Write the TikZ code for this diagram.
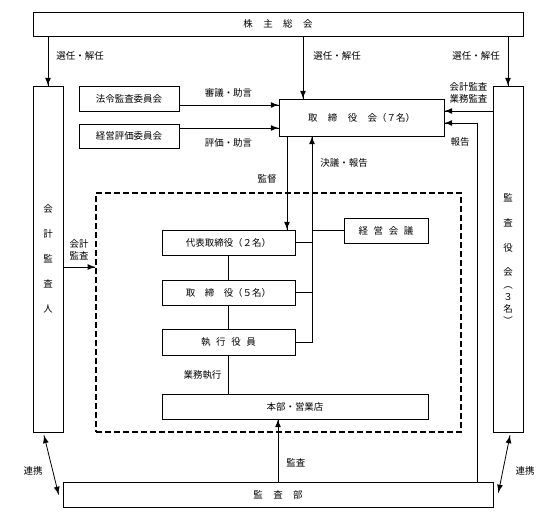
\documentclass[tikz,border=0pt]{standalone}
\usepackage{fontspec}
\setmainfont{Noto Sans CJK JP}
\usetikzlibrary{calc,
                 decorations.markings}
\tikzset{arr/.style = {decoration={markings, mark=at position 1 with {\arrow[scale=1.5]{latex}}}, postaction={decorate}}}
\tikzset{arrboth/.style = {decoration={markings, mark=at position 0 with {\arrowreversed[scale=1.5]{latex}}, mark=at position 1 with {\arrow[scale=1.5]{latex}}}, postaction={decorate}}}
\tikzset{box/.style = {draw, inner sep=0pt, minimum height=25bp}}
\tikzset{lbl/.style = {inner sep=0pt}}
\newcommand{\gp}[1][1.1em]{\hspace{#1}}

\begin{document}
\begin{tikzpicture}[x=1bp, y=-1bp, line width=0.8bp, font=\fontsize{9.5}{11}\selectfont]
\useasboundingbox (0,0) rectangle (541,521);
\node[draw, dash pattern=on 6bp off 3bp, line width=1.3bp, minimum width=365bp, minimum height=239bp] (grp) at (278.5,312.5) {};
\node[box, minimum width=490bp, minimum height=24bp] (agm) at (278,24) {株\gp 主\gp 総\gp 会};
\node[box, minimum width=30bp, minimum height=346bp, align=center, font=\fontsize{9.5}{25}\selectfont] (auditor) at (48,259) {会\\計\\監\\査\\人};
\node[box, minimum width=30bp, minimum height=346bp, align=center, font=\fontsize{9.5}{12}\selectfont] (kansa) at (508,259) {監\\[13bp]査\\[13bp]役\\[13bp]会\\[1bp]︵\\３\\名\\︶};
\node[box, minimum width=100bp] (law) at (129,98.5) {法令監査委員会};
\node[box, minimum width=100bp, minimum height=24bp] (eval) at (129,136) {経営評価委員会};
\node[box, minimum width=165bp, minimum height=37bp] (board) at (361.5,117.5) {取\gp 締\gp 役\gp 会（７名）};
\node[box, minimum width=133bp] (rep) at (228.5,242.5) {代表取締役（２名）};
\node[box, minimum width=133bp] (dir) at (228.5,292.5) {取\gp[1em]締\gp[1em]役（５名）};
\node[box, minimum width=133bp, minimum height=26bp] (exe) at (228.5,342) {執\gp[0.6em]行\gp[0.6em]役\gp[0.6em]員};
\node[box, minimum width=84bp] (mtg) at (386,230.5) {経\gp[0.6em]営\gp[0.6em]会\gp[0.6em]議};
\node[box, minimum width=266bp] (hq) at (295,406.5) {本部・営業店};
\node[box, minimum width=430bp] (iad) at (278,494.5) {監\gp 査\gp 部};

\coordinate (sel) at (303,0);
\coordinate (kan) at (287,0);
\coordinate (bus) at (312,0);
\coordinate (rpt) at (477,123);
\coordinate (aud) at (0,267);
\coordinate (l1) at ([yshift=-6.5bp]law.east);
\coordinate (e1) at ([yshift=8bp]eval.east);
\coordinate (k1) at ([yshift=6.5bp]board.east);

\draw[arr] (agm.south -| auditor.north) -- (auditor.north);
\draw[arr] (agm.south -| sel) -- (board.north -| sel);
\draw[arr] (agm.south -| kansa.north) -- (kansa.north);
\draw[arr] (l1) -- (board.west |- l1);
\draw[arr] (e1) -- (board.west |- e1);
\draw[arr] (kansa.west |- k1) -- (k1);
\draw[arr] (iad.north -| rpt) |- (board.east |- rpt);
\draw[arr] (board.south -| kan) -- (rep.north -| kan);
\draw[arr] (exe.east) -| (board.south -| bus);
\draw (rep.east) -- (rep.east -| bus);
\draw (dir.east) -- (dir.east -| bus);
\draw (mtg.west) -- (mtg.west -| bus);
\draw (rep.south) -- (dir.north);
\draw (dir.south) -- (exe.north);
\draw (exe.south) -- (exe.south |- hq.north);
\draw[arr] (iad.north) -- (iad.north |- hq.south);
\draw[arr] (auditor.east |- aud) -- (grp.west |- aud);
\draw[arrboth] ([xshift=-4bp,yshift=-3bp]auditor.south) -- ([xshift=-4bp]iad.west);
\draw[arrboth] ([xshift=2bp,yshift=-3bp]kansa.south) -- ([xshift=5bp,yshift=2bp]iad.east);

\node[lbl, anchor=west] (s1) at (56,56) {選任・解任};
\node[lbl, anchor=west] (s2) at (313,56) {選任・解任};
\node[lbl, anchor=west] (s3) at (452,56) {選任・解任};
\node[lbl] (adv1) at (228.5,93) {審議・助言};
\node[lbl] (adv2) at (228.5,143) {評価・助言};
\node[lbl, align=center, font=\fontsize{9.5}{12}\selectfont] (acc) at (468.5,93) {会計監査\\業務監査};
\node[lbl] (rpt2) at (460,142) {報告};
\node[lbl] (sv) at (267,179) {監督};
\node[lbl, anchor=west] (dec) at (320,163) {決議・報告};
\node[lbl, align=center, font=\fontsize{9.5}{12}\selectfont] (aa) at (79,250) {会計\\監査};
\node[lbl] (ops) at (202.5,375) {業務執行};
\node[lbl, anchor=west] (ad) at (286,463) {監査};
\node[lbl] (c1) at (33,471) {連携};
\node[lbl] (c2) at (525,471) {連携};
\end{tikzpicture}
\end{document}
